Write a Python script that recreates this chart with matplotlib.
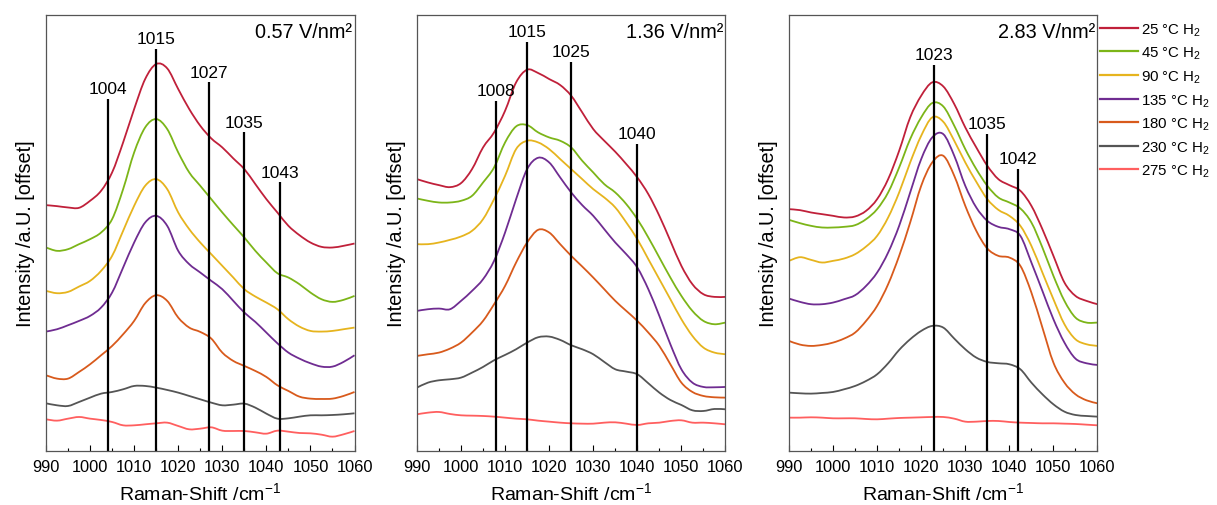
import numpy as np
import matplotlib
matplotlib.use("Agg")
import matplotlib.pyplot as plt
from matplotlib.path import Path
from matplotlib.patches import PathPatch
from matplotlib.lines import Line2D

plt.rcParams['font.family'] = ['Liberation Sans', 'DejaVu Sans']

# Raman shift grid shared by all spectra (cm^-1)
shift = np.arange(990, 1060.1, 2.5)

temps = ["25", "45", "90", "135", "180", "230", "275"]
colors = ["#C0203A", "#7CB518", "#E6B41E", "#6F2C91", "#D85A1C", "#555555", "#FF5F5F"]

# Offset intensities (a.U.), field strength 0.57 V/nm²
low_field = [
    [7.37, 7.34, 7.30, 7.29, 7.50, 7.80, 8.35, 9.25, 10.25, 11.15, 11.60, 11.47, 10.85, 10.25, 9.75,
     9.37, 9.10, 8.77, 8.45, 8.00, 7.55, 7.15, 6.75, 6.47, 6.25, 6.12, 6.10, 6.15, 6.22],
    [6.10, 6.00, 6.05, 6.20, 6.35, 6.55, 6.95, 7.85, 8.95, 9.70, 9.95, 9.65, 8.95, 8.35, 7.95,
     7.55, 7.15, 6.77, 6.40, 6.00, 5.65, 5.33, 5.20, 5.00, 4.75, 4.55, 4.47, 4.53, 4.65],
    [4.80, 4.73, 4.77, 4.93, 5.10, 5.40, 5.85, 6.60, 7.35, 7.95, 8.15, 7.85, 7.15, 6.65, 6.25,
     5.90, 5.55, 5.20, 4.85, 4.63, 4.45, 4.25, 3.95, 3.73, 3.60, 3.58, 3.60, 3.65, 3.70],
    [3.58, 3.65, 3.77, 3.90, 4.05, 4.30, 4.75, 5.50, 6.25, 6.85, 7.05, 6.75, 6.00, 5.60, 5.35,
     5.10, 4.85, 4.50, 4.15, 3.87, 3.55, 3.23, 2.95, 2.77, 2.63, 2.53, 2.53, 2.67, 2.87],
    [2.27, 2.17, 2.17, 2.37, 2.60, 2.87, 3.15, 3.50, 3.90, 4.43, 4.67, 4.50, 4.00, 3.70, 3.57,
     3.37, 2.95, 2.70, 2.55, 2.40, 2.22, 1.97, 1.80, 1.63, 1.57, 1.56, 1.57, 1.65, 1.77],
    [1.43, 1.37, 1.35, 1.47, 1.60, 1.72, 1.77, 1.85, 1.95, 1.95, 1.90, 1.83, 1.75, 1.65, 1.55,
     1.45, 1.37, 1.39, 1.42, 1.30, 1.12, 0.97, 0.98, 1.03, 1.07, 1.07, 1.08, 1.10, 1.13],
    [0.95, 0.91, 0.97, 1.02, 0.97, 0.93, 0.87, 0.77, 0.77, 0.80, 0.83, 0.85, 0.75, 0.65, 0.67,
     0.71, 0.61, 0.60, 0.60, 0.56, 0.52, 0.61, 0.58, 0.54, 0.53, 0.49, 0.43, 0.50, 0.60],
]

# 1.36 V/nm²
mid_field = [
    [8.15, 8.05, 7.97, 7.91, 8.03, 8.45, 9.10, 9.55, 10.20, 11.05, 11.43, 11.33, 11.15, 10.97, 10.65,
     10.15, 9.65, 9.30, 8.97, 8.60, 8.20, 7.70, 7.05, 6.30, 5.55, 5.00, 4.70, 4.62, 4.62],
    [7.57, 7.50, 7.45, 7.45, 7.50, 7.65, 8.05, 8.50, 9.25, 9.73, 9.77, 9.55, 9.40, 9.30, 9.10,
     8.70, 8.35, 8.00, 7.75, 7.40, 6.95, 6.40, 5.80, 5.20, 4.65, 4.20, 3.90, 3.80, 3.85],
    [6.20, 6.20, 6.25, 6.33, 6.43, 6.60, 6.95, 7.55, 8.25, 9.05, 9.30, 9.25, 9.05, 8.75, 8.45,
     8.15, 7.85, 7.60, 7.30, 6.85, 6.35, 5.75, 5.15, 4.55, 3.95, 3.45, 3.10, 2.95, 2.90],
    [4.20, 4.25, 4.27, 4.25, 4.50, 4.80, 5.15, 5.70, 6.55, 7.55, 8.45, 8.79, 8.65, 8.20, 7.75,
     7.37, 7.05, 6.65, 6.25, 5.90, 5.50, 4.85, 4.05, 3.20, 2.45, 2.05, 1.92, 1.91, 1.92],
    [2.85, 2.90, 2.95, 3.07, 3.25, 3.55, 3.90, 4.40, 4.95, 5.65, 6.25, 6.63, 6.55, 6.20, 5.85,
     5.53, 5.20, 4.85, 4.50, 4.20, 3.90, 3.55, 3.15, 2.60, 2.05, 1.77, 1.65, 1.61, 1.60],
    [1.90, 2.05, 2.12, 2.15, 2.20, 2.35, 2.52, 2.72, 2.88, 3.05, 3.25, 3.41, 3.43, 3.33, 3.17,
     3.05, 2.90, 2.67, 2.45, 2.38, 2.30, 2.03, 1.75, 1.53, 1.38, 1.22, 1.20, 1.26, 1.25],
    [1.10, 1.15, 1.17, 1.11, 1.07, 1.06, 1.05, 1.03, 1.00, 0.97, 0.95, 0.91, 0.88, 0.85, 0.83,
     0.82, 0.82, 0.85, 0.86, 0.82, 0.78, 0.83, 0.85, 0.90, 0.92, 0.85, 0.85, 0.83, 0.80],
]

# 2.83 V/nm²
high_field = [
    [7.25, 7.22, 7.15, 7.10, 7.05, 7.00, 7.03, 7.20, 7.55, 8.15, 9.00, 10.00, 10.65, 11.05, 10.93,
     10.40, 9.70, 9.10, 8.55, 8.15, 7.97, 7.80, 7.35, 6.65, 5.85, 5.05, 4.65, 4.50, 4.40],
    [6.93, 6.83, 6.75, 6.70, 6.70, 6.72, 6.77, 6.95, 7.25, 7.75, 8.50, 9.35, 10.00, 10.43, 10.33,
     9.75, 9.05, 8.45, 7.95, 7.60, 7.45, 7.27, 6.85, 6.10, 5.25, 4.50, 4.00, 3.85, 3.85],
    [5.70, 5.81, 5.73, 5.65, 5.70, 5.77, 5.90, 6.13, 6.45, 7.00, 7.75, 8.65, 9.45, 10.00, 9.87,
     9.30, 8.65, 8.07, 7.55, 7.23, 7.05, 6.75, 6.15, 5.35, 4.55, 3.80, 3.35, 3.20, 3.15],
    [4.57, 4.47, 4.40, 4.40, 4.45, 4.55, 4.67, 4.95, 5.35, 5.95, 6.75, 7.75, 8.75, 9.40, 9.50,
     8.85, 7.95, 7.30, 6.90, 6.72, 6.65, 6.45, 5.65, 4.80, 3.95, 3.25, 2.77, 2.63, 2.58],
    [3.30, 3.19, 3.15, 3.18, 3.25, 3.37, 3.55, 3.90, 4.35, 5.00, 5.85, 6.85, 7.95, 8.65, 8.85,
     8.25, 7.35, 6.60, 6.07, 5.85, 5.80, 5.55, 4.75, 3.70, 2.65, 2.05, 1.70, 1.52, 1.43],
    [1.75, 1.73, 1.72, 1.74, 1.77, 1.85, 1.95, 2.10, 2.30, 2.63, 3.03, 3.35, 3.60, 3.75, 3.70,
     3.37, 3.05, 2.80, 2.67, 2.63, 2.60, 2.45, 2.05, 1.70, 1.40, 1.18, 1.08, 1.05, 1.03],
    [1.00, 1.00, 1.01, 1.00, 0.98, 0.98, 0.98, 0.96, 0.95, 0.97, 0.99, 1.00, 1.01, 1.02, 1.02,
     0.97, 0.88, 0.88, 0.90, 0.90, 0.87, 0.85, 0.84, 0.83, 0.83, 0.82, 0.81, 0.79, 0.77],
]

fields = ["0.57 V/nm²", "1.36 V/nm²", "2.83 V/nm²"]
spectra = [low_field, mid_field, high_field]

# assigned band positions and the height of each marker line
peak_pos = [[1004, 1015, 1027, 1035, 1043], [1008, 1015, 1025, 1040], [1023, 1035, 1042]]
peak_top = [[10.55, 12.05, 11.05, 9.55, 8.05], [10.50, 12.27, 11.67, 9.20], [11.58, 9.50, 8.45]]


def spline_path(x, y):
    """Catmull-Rom curve through the points, as cubic Bezier segments."""
    pts = np.column_stack([x, y])
    ext = np.vstack([pts[0], pts, pts[-1]])
    verts = [pts[0]]
    codes = [Path.MOVETO]
    for k in range(len(pts) - 1):
        p0, p1, p2, p3 = ext[k], ext[k + 1], ext[k + 2], ext[k + 3]
        verts += [p1 + (p2 - p0) / 6, p2 - (p3 - p1) / 6, p2]
        codes += [Path.CURVE4] * 3
    return Path(verts, codes)


fig = plt.figure(figsize=(12.17, 5.06), dpi=100)
lefts = [0.0378, 0.3426, 0.6483]
width = 0.2535

for i in range(3):
    ax = fig.add_axes([lefts[i], 0.1067, width, 0.8617])
    for j, curve in enumerate(spectra[i]):
        ax.add_patch(PathPatch(spline_path(shift, np.array(curve)), fill=False,
                               edgecolor=colors[j], lw=1.3))
    for p, top in zip(peak_pos[i], peak_top[i]):
        ax.plot([p, p], [0, top], color="black", lw=1.6, solid_capstyle="butt")
        ax.annotate(str(p), (p, top), xytext=(0, 2), textcoords="offset points",
                    ha="center", va="bottom", fontsize=12.5)
    ax.text(0.993, 0.985, fields[i], transform=ax.transAxes, ha="right", va="top", fontsize=14.3)

    ax.set_xlim(990, 1060)
    ax.set_ylim(0, 13.07)
    ax.set_xticks(np.arange(990, 1061, 10))
    ax.set_xticks(np.arange(995, 1060, 10), minor=True)
    ax.set_yticks([])
    ax.tick_params(axis="x", which="major", direction="in", length=4, width=0.8,
                   labelsize=11.8, pad=6)
    ax.tick_params(axis="x", which="minor", direction="in", length=2.5, width=0.8)
    for s in ax.spines.values():
        s.set_color("#555555")
        s.set_linewidth(0.9)
    ax.set_xlabel("Raman-Shift /cm$^{\\mathregular{-1}}$", fontsize=14, labelpad=5)
    ax.set_ylabel("Intensity /a.U. [offset]", fontsize=14.3, labelpad=8)

    if i == 2:
        handles = [Line2D([], [], color=c, lw=1.6) for c in colors]
        labels = [f"{t} °C H$_\\mathregular{{2}}$" for t in temps]
        ax.legend(handles, labels, loc="upper left", bbox_to_anchor=(1.0, 0.993), frameon=False,
                  fontsize=10.8, handlelength=2.5, handletextpad=0.2, labelspacing=0.46,
                  borderpad=0.15, borderaxespad=0.05)

fig.savefig("out.png", dpi=100)
